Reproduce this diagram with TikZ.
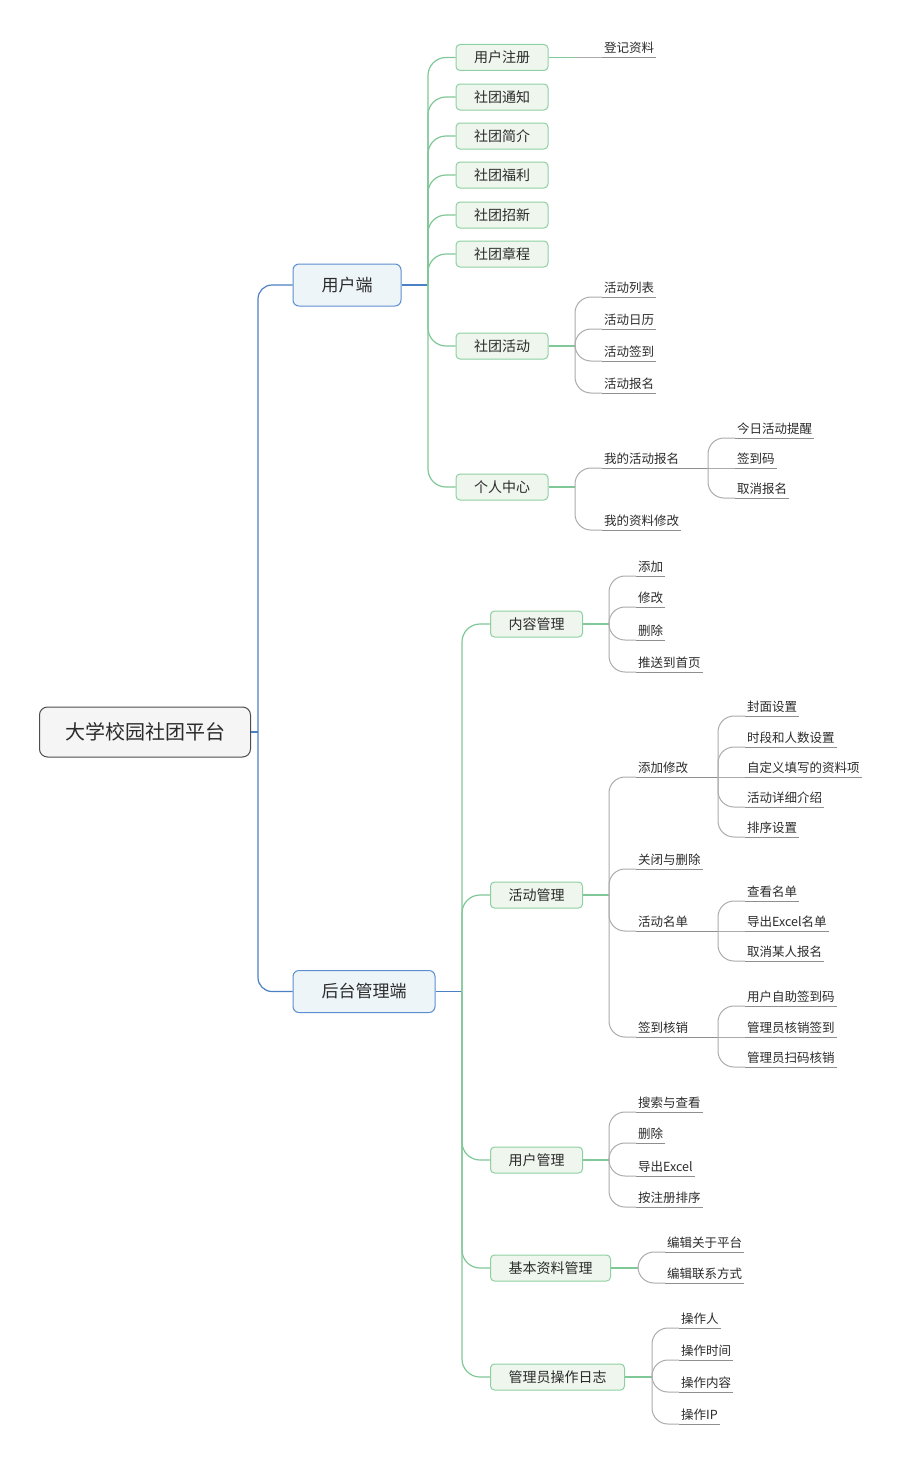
\documentclass[tikz,border=0pt]{standalone}
\usepackage{fontspec}
\setmainfont{Noto Sans CJK SC}
\definecolor{txt}{HTML}{2B2B2B}
\definecolor{rootb}{HTML}{4D4D4D}
\definecolor{rootf}{HTML}{F5F5F5}
\definecolor{blueb}{HTML}{5B8FCF}
\definecolor{bluef}{HTML}{EEF5F8}
\definecolor{bluel}{HTML}{4A80C4}
\definecolor{greenb}{HTML}{8FD0A2}
\definecolor{greenf}{HTML}{EFF6EE}
\definecolor{greenl}{HTML}{80C898}
\definecolor{grayl}{HTML}{ABABAB}
\definecolor{ulc}{HTML}{8F8F8F}
\newcommand\lfn[5]{%
  \node[leafnode] (#1) at (#3,#4) {#5};
  \draw[ul] (#1.south west) -- (#1.south east);
  \draw[yl] (#2) |- (#1.south west);}
\newcommand\lfs[5]{%
  \node[leafnode] (#1) at (#3,#4) {#5};
  \draw[ul] (#1.south west) -- (#1.south east);
  \draw[ys] (#2) -- (#1.south west);}
\begin{document}
\begin{tikzpicture}[x=1pt,y=-1pt,
  rootnode/.style={draw=rootb,fill=rootf,rounded corners=8pt,line width=1pt,minimum width=211pt,minimum height=50pt,inner sep=0pt,font=\fontsize{20}{24}\selectfont,text=txt},
  lone/.style={draw=blueb,fill=bluef,rounded corners=6pt,line width=1pt,minimum height=42pt,inner xsep=28.5pt,font=\fontsize{17}{20}\selectfont,text=txt},
  ltwo/.style={draw=greenb,fill=greenf,rounded corners=4pt,line width=1pt,minimum height=26pt,inner xsep=18pt,font=\fontsize{14}{16}\selectfont,text=txt},
  leafnode/.style={anchor=south west,inner xsep=2pt,inner ysep=3pt,text height=9.5pt,text depth=1.6pt,font=\fontsize{12.5}{14}\selectfont,text=txt},
  ul/.style={draw=ulc,line width=0.9pt},
  bl/.style={draw=bluel,line width=1.2pt,rounded corners=14pt},
  gl/.style={draw=greenl,line width=1.2pt,rounded corners=18pt},
  gs/.style={draw=greenl,line width=1.2pt},
  yl/.style={draw=grayl,line width=1pt,rounded corners=16pt},
  ys/.style={draw=grayl,line width=1pt},
]
\useasboundingbox[fill=white] (0,0) rectangle (900,1464);

% root and level 1
\node[rootnode] (root) at (145,732) {大学校园社团平台};
\node[lone] (u) at (347,285) {用户端};
\node[lone] (b) at (364,991.5) {后台管理端};
\coordinate (j0) at (258,732);
\draw[bl] (root.east) -- (j0);
\draw[bl] (j0) |- (u.west);
\draw[bl] (j0) |- (b.west);

% user side level 2
\coordinate (ju) at (428,285);
\draw[bl] (u.east) -- (ju);
\node[ltwo] (u1) at (502,57.5) {用户注册};
\node[ltwo] (u2) at (502,97) {社团通知};
\node[ltwo] (u3) at (502,136) {社团简介};
\node[ltwo] (u4) at (502,175) {社团福利};
\node[ltwo] (u5) at (502,215) {社团招新};
\node[ltwo] (u6) at (502,254) {社团章程};
\node[ltwo] (u7) at (502,346) {社团活动};
\node[ltwo] (u8) at (502,487) {个人中心};
\foreach \n in {u1,u2,u3,u4,u5,u6,u7,u8} {\draw[gl] (ju) |- (\n.west);}

% 用户注册
\coordinate (j1) at (575,57.5);
\draw[gs] (u1.east) -- (j1);
\lfs{u1a}{j1}{602}{57.5}{登记资料}

% 社团活动
\coordinate (j7) at (575,346);
\draw[gs] (u7.east) -- (j7);
\lfn{u7a}{j7}{602}{297}{活动列表}
\lfn{u7b}{j7}{602}{329}{活动日历}
\lfn{u7c}{j7}{602}{361}{活动签到}
\lfn{u7d}{j7}{602}{393}{活动报名}

% 个人中心
\coordinate (j8) at (575,487);
\draw[gs] (u8.east) -- (j8);
\lfn{u8a}{j8}{602}{468}{我的活动报名}
\lfn{u8b}{j8}{602}{530}{我的资料修改}
\coordinate (j8a) at (708,468);
\draw[ul] (u8a.south east) -- (j8a);
\lfn{u8a1}{j8a}{735}{438}{今日活动提醒}
\lfs{u8a2}{j8a}{735}{468}{签到码}
\lfn{u8a3}{j8a}{735}{498}{取消报名}

% backend level 2
\coordinate (jb) at (462,991.5);
\draw[bl] (b.east) -- (jb);
\node[ltwo,anchor=west] (b1) at (490,624) {内容管理};
\node[ltwo,anchor=west] (b2) at (490,895) {活动管理};
\node[ltwo,anchor=west] (b3) at (490,1160) {用户管理};
\node[ltwo,anchor=west] (b4) at (490,1268) {基本资料管理};
\node[ltwo,anchor=west] (b5) at (490,1377) {管理员操作日志};
\foreach \n in {b1,b2,b3,b4,b5} {\draw[gl] (jb) |- (\n.west);}

% 内容管理
\coordinate (jb1) at (609,624);
\draw[gs] (b1.east) -- (jb1);
\lfn{b1a}{jb1}{636}{576}{添加}
\lfn{b1b}{jb1}{636}{607}{修改}
\lfn{b1c}{jb1}{636}{640}{删除}
\lfn{b1d}{jb1}{636}{672}{推送到首页}

% 活动管理
\coordinate (jb2) at (609,895);
\draw[gs] (b2.east) -- (jb2);
\lfn{b2a}{jb2}{636}{777}{添加修改}
\lfn{b2b}{jb2}{636}{869}{关闭与删除}
\lfn{b2c}{jb2}{636}{931}{活动名单}
\lfn{b2d}{jb2}{636}{1037}{签到核销}

\coordinate (jb2a) at (718,777);
\draw[ul] (b2a.south east) -- (jb2a);
\lfn{b2a1}{jb2a}{745}{716}{封面设置}
\lfn{b2a2}{jb2a}{745}{747}{时段和人数设置}
\lfs{b2a3}{jb2a}{745}{777}{自定义填写的资料项}
\lfn{b2a4}{jb2a}{745}{807}{活动详细介绍}
\lfn{b2a5}{jb2a}{745}{837}{排序设置}

\coordinate (jb2c) at (718,931);
\draw[ul] (b2c.south east) -- (jb2c);
\lfn{b2c1}{jb2c}{745}{901}{查看名单}
\lfs{b2c2}{jb2c}{745}{931}{导出Excel名单}
\lfn{b2c3}{jb2c}{745}{961}{取消某人报名}

\coordinate (jb2d) at (718,1037);
\draw[ul] (b2d.south east) -- (jb2d);
\lfn{b2d1}{jb2d}{745}{1006}{用户自助签到码}
\lfs{b2d2}{jb2d}{745}{1037}{管理员核销签到}
\lfn{b2d3}{jb2d}{745}{1067}{管理员扫码核销}

% 用户管理
\coordinate (jb3) at (609,1160);
\draw[gs] (b3.east) -- (jb3);
\lfn{b3a}{jb3}{636}{1112}{搜索与查看}
\lfn{b3b}{jb3}{636}{1143}{删除}
\lfn{b3c}{jb3}{636}{1176}{导出Excel}
\lfn{b3d}{jb3}{636}{1207}{按注册排序}

% 基本资料管理
\coordinate (jb4) at (638,1268);
\draw[gs] (b4.east) -- (jb4);
\lfn{b4a}{jb4}{665}{1252}{编辑关于平台}
\lfn{b4b}{jb4}{665}{1283}{编辑联系方式}

% 管理员操作日志
\coordinate (jb5) at (652,1377);
\draw[gs] (b5.east) -- (jb5);
\lfn{b5a}{jb5}{679}{1328}{操作人}
\lfn{b5b}{jb5}{679}{1360}{操作时间}
\lfn{b5c}{jb5}{679}{1392}{操作内容}
\lfn{b5d}{jb5}{679}{1424}{操作IP}
\end{tikzpicture}
\end{document}
